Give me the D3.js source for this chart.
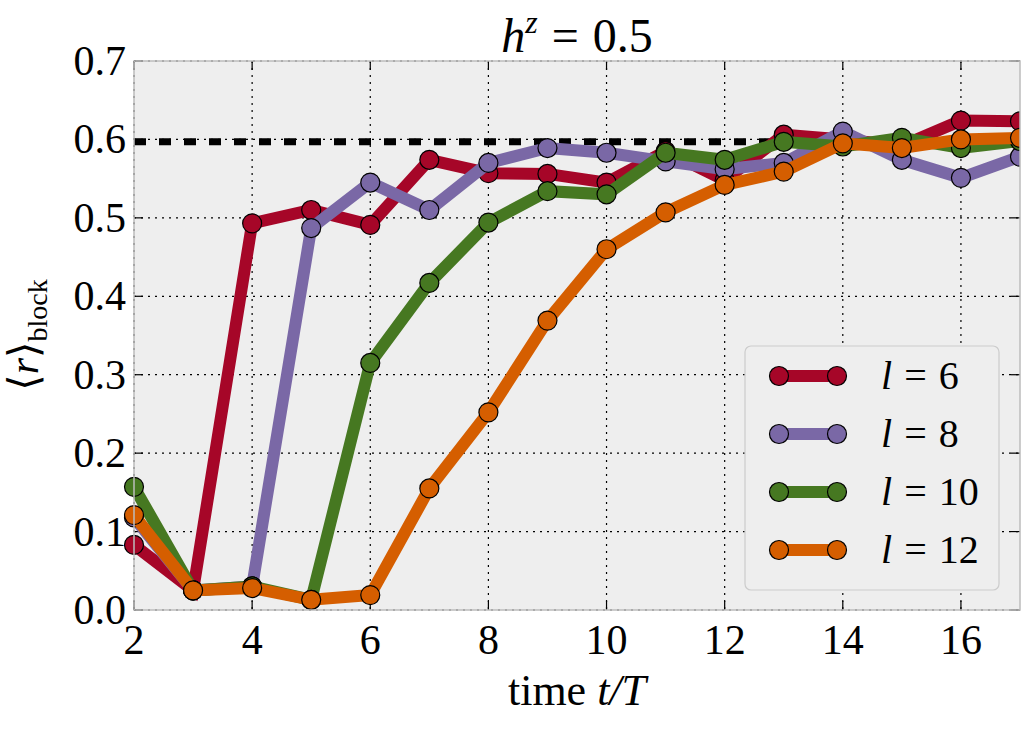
<!DOCTYPE html>
<html>
<head>
<meta charset="utf-8">
<script src="https://cdn.jsdelivr.net/npm/d3@7"></script>
<style>
  body { margin: 0; background: #fff; }
</style>
</head>
<body>
<script>
// data
const times = [2, 3, 4, 5, 6, 7, 8, 9, 10, 11, 12, 13, 14, 15, 16, 17];
const r_l6  = [0.083, 0.025, 0.493, 0.510, 0.491, 0.574, 0.557, 0.556, 0.545, 0.585, 0.548, 0.606, 0.600, 0.592, 0.624, 0.623];
const r_l8  = [0.118, 0.025, 0.030, 0.487, 0.545, 0.510, 0.570, 0.589, 0.583, 0.572, 0.562, 0.570, 0.610, 0.574, 0.551, 0.578];
const r_l10 = [0.157, 0.025, 0.030, 0.013, 0.315, 0.417, 0.494, 0.534, 0.530, 0.583, 0.574, 0.597, 0.591, 0.602, 0.589, 0.598];
const r_l12 = [0.121, 0.025, 0.028, 0.013, 0.019, 0.155, 0.252, 0.369, 0.460, 0.507, 0.542, 0.559, 0.595, 0.589, 0.600, 0.602];
const seriesNames = ["6", "8", "10", "12"];
const seriesColors = ["#A60628", "#7A68A6", "#467821", "#D55E00"];
const refLevel = 0.597;
const xTicks = [2, 4, 6, 8, 10, 12, 14, 16];
const yTicks = [0, 0.1, 0.2, 0.3, 0.4, 0.5, 0.6, 0.7];

const series = [r_l6, r_l8, r_l10, r_l12].map((vals, i) => ({
  name: seriesNames[i],
  color: seriesColors[i],
  points: times.map((t, j) => ({t, r: vals[j]}))
}));

const width = 1035, height = 735;
const margin = {top: 61, right: 15, bottom: 125, left: 134};
const iw = width - margin.left - margin.right;
const ih = height - margin.top - margin.bottom;

const svg = d3.select("body").append("svg")
  .attr("width", width)
  .attr("height", height)
  .attr("font-family", "'Liberation Serif', 'DejaVu Serif', 'Times New Roman', serif");

const g = svg.append("g").attr("transform", `translate(${margin.left},${margin.top})`);

const x = d3.scaleLinear().domain([2, 17]).range([0, iw]);
const y = d3.scaleLinear().domain([0, 0.7]).range([ih, 0]);

// background
g.append("rect").attr("width", iw).attr("height", ih).attr("fill", "#eeeeee");

// grid
g.append("g").selectAll("line").data(xTicks).join("line")
  .attr("x1", d => x(d)).attr("x2", d => x(d))
  .attr("y1", 0).attr("y2", ih)
  .attr("stroke", "#000").attr("stroke-width", 1.2).attr("stroke-dasharray", "2,5");
g.append("g").selectAll("line").data(yTicks).join("line")
  .attr("x1", 0).attr("x2", iw)
  .attr("y1", d => y(d)).attr("y2", d => y(d))
  .attr("stroke", "#000").attr("stroke-width", 1.2).attr("stroke-dasharray", "2,5");

// inner ticks on all sides
const tickLen = 9;
const tk = g.append("g").attr("stroke", "#000").attr("stroke-width", 1.2);
xTicks.forEach(d => {
  tk.append("line").attr("x1", x(d)).attr("x2", x(d)).attr("y1", ih).attr("y2", ih - tickLen);
  tk.append("line").attr("x1", x(d)).attr("x2", x(d)).attr("y1", 0).attr("y2", tickLen);
});
yTicks.forEach(d => {
  tk.append("line").attr("x1", 0).attr("x2", tickLen).attr("y1", y(d)).attr("y2", y(d));
  tk.append("line").attr("x1", iw).attr("x2", iw - tickLen).attr("y1", y(d)).attr("y2", y(d));
});

// tick labels
g.append("g").selectAll("text").data(xTicks).join("text")
  .attr("x", d => x(d)).attr("y", ih + 44)
  .attr("text-anchor", "middle").attr("font-size", 42)
  .text(d => d);
g.append("g").selectAll("text").data(yTicks).join("text")
  .attr("x", -8).attr("y", d => y(d) + 14)
  .attr("text-anchor", "end").attr("font-size", 42)
  .text(d => d3.format(".1f")(d));

// reference level (dashed)
g.append("line")
  .attr("x1", 0).attr("x2", iw)
  .attr("y1", y(refLevel)).attr("y2", y(refLevel))
  .attr("stroke", "#000").attr("stroke-width", 7)
  .attr("stroke-dasharray", "12,13");

const clip = svg.append("clipPath").attr("id", "clip")
  .append("rect").attr("x", -12).attr("y", -12).attr("width", iw + 12).attr("height", ih + 24);

const line = d3.line().x(d => x(d.t)).y(d => y(d.r));
const plot = g.append("g").attr("clip-path", "url(#clip)");

series.forEach(s => {
  const sg = plot.append("g");
  sg.append("path").datum(s.points)
    .attr("d", line).attr("fill", "none")
    .attr("stroke", s.color).attr("stroke-width", 12)
    .attr("stroke-linejoin", "miter");
  sg.selectAll("circle").data(s.points).join("circle")
    .attr("cx", d => x(d.t)).attr("cy", d => y(d.r)).attr("r", 9.5)
    .attr("fill", s.color).attr("stroke", "#000").attr("stroke-width", 1.2);
});

// frame
g.append("rect").attr("width", iw).attr("height", ih)
  .attr("fill", "none").attr("stroke", "#bcbcbc").attr("stroke-width", 1.5);

// legend
const lg = svg.append("g").attr("transform", "translate(745,346)");
lg.append("rect").attr("width", 254).attr("height", 244).attr("rx", 6)
  .attr("fill", "#eeeeee").attr("stroke", "#cccccc").attr("stroke-width", 1.2);
series.forEach((s, i) => {
  const yy = 30 + i * 58;
  lg.append("line").attr("x1", 34).attr("x2", 92).attr("y1", yy).attr("y2", yy)
    .attr("stroke", s.color).attr("stroke-width", 12);
  [34, 92].forEach(cx => lg.append("circle").attr("cx", cx).attr("cy", yy).attr("r", 9.5)
    .attr("fill", s.color).attr("stroke", "#000").attr("stroke-width", 1.2));
  const t = lg.append("text").attr("x", 136).attr("y", yy + 13).attr("font-size", 40);
  t.append("tspan").attr("font-style", "italic").text("l");
  t.append("tspan").attr("dx", 12).text("=");
  t.append("tspan").attr("dx", 12).text(s.name);
});

// title
const title = svg.append("text").attr("x", 577).attr("y", 52)
  .attr("text-anchor", "middle").attr("font-size", 48);
title.append("tspan").attr("font-style", "italic").text("h");
title.append("tspan").attr("font-style", "italic").attr("font-size", 32).attr("dy", -19).text("z");
title.append("tspan").attr("dy", 19).attr("dx", 14).text("=");
title.append("tspan").attr("dx", 14).text("0.5");

// x label
const xl = svg.append("text").attr("x", 577).attr("y", 705)
  .attr("text-anchor", "middle").attr("font-size", 44);
xl.append("tspan").text("time ");
xl.append("tspan").attr("font-style", "italic").text("t/T");

// y label
const yl = svg.append("text")
  .attr("transform", "translate(38,335) rotate(-90)")
  .attr("text-anchor", "middle").attr("font-size", 42);
yl.append("tspan").text("\u27E8");
yl.append("tspan").attr("font-style", "italic").text("r");
yl.append("tspan").text("\u27E9");
yl.append("tspan").attr("font-size", 28).attr("dy", 9).text("block");
</script>
</body>
</html>
